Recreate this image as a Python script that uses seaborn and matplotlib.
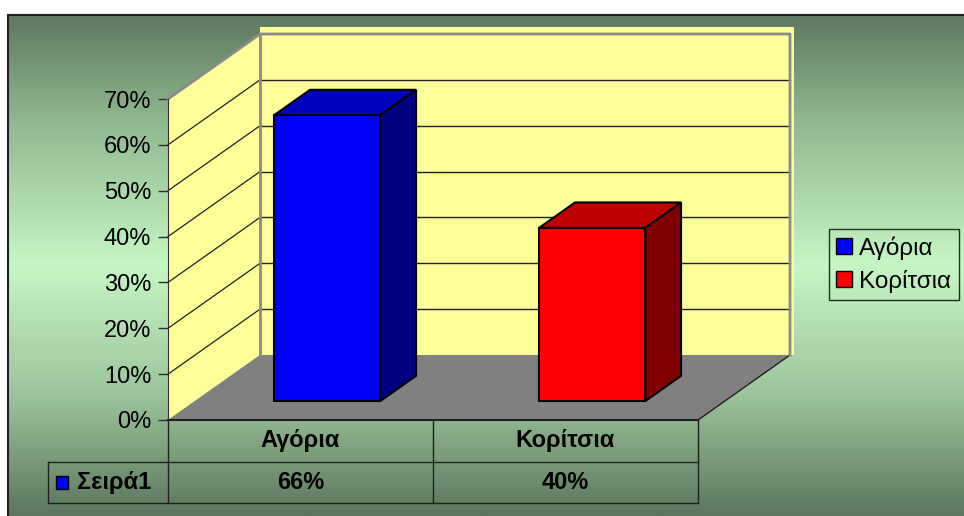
import numpy as np
import matplotlib
matplotlib.use('Agg')
import matplotlib.pyplot as plt
from matplotlib.colors import LinearSegmentedColormap
from matplotlib.patches import Polygon, Rectangle, Patch
import seaborn as sns

# data
categories = ['Αγόρια', 'Κορίτσια']
values = [0.66, 0.40]
series_name = 'Σειρά1'
yticks = [0.0, 0.1, 0.2, 0.3, 0.4, 0.5, 0.6, 0.7]

front_colors = ['#0000ff', '#ff0000']
top_colors = ['#0000c0', '#c00000']
side_colors = ['#000080', '#800000']

plt.rcParams['font.family'] = ['Liberation Sans', 'DejaVu Sans']

W, H = 964, 516
fig = plt.figure(figsize=(W / 100, H / 100), dpi=100)

# background with gradient and frame (pixel coords)
bg = fig.add_axes([0, 0, 1, 1], zorder=0)
bg.set_xlim(0, W)
bg.set_ylim(H, 0)
bg.axis('off')
grad = LinearSegmentedColormap.from_list('g', [
    (0.0, '#5f795f'), (0.22, '#92ba92'), (0.5, '#c6f6c6'),
    (0.76, '#9cc49c'), (1.0, '#5c765c')])
bg.imshow(np.linspace(0, 1, 256)[:, None], cmap=grad, aspect='auto',
          extent=(8, W, H, 15))
bg.plot([8, W], [15, 15], color='#202020', lw=1.5)
bg.plot([8, 8], [15, H], color='#202020', lw=1.5)

# main axes = front plane of the 3d box
ax = fig.add_axes([168 / W, (H - 420) / H, 530 / W, 321 / H], zorder=1)
ax.patch.set_alpha(0)
ax.set_xlim(-0.5, 1.5)
ax.set_ylim(0, 0.7)

DX, DY = 92 / 265, 65 / 458.6      # full depth of the box in data units
F0, FD = 0.29, 0.39                # bar front position / bar depth (fraction of depth)
BAR_SCALE = 0.945                  # perspective shrink at bar depth
wall = '#ffff99'

# left wall
ax.add_patch(Polygon([(-0.5, 0), (-0.5, 0.7), (-0.5 + DX, 0.7 + DY), (-0.5 + DX, DY)],
                     closed=True, fc=wall, ec='none', clip_on=False, zorder=1))
# back wall
ax.add_patch(Rectangle((-0.5 + DX, DY), 2 + 0.015, 0.7 + 0.015, fc=wall, ec='none',
                       clip_on=False, zorder=1))
# floor
ax.add_patch(Polygon([(-0.5, 0), (1.5, 0), (1.5 + DX, DY), (-0.5 + DX, DY)],
                     closed=True, fc='#808080', ec='none', clip_on=False, zorder=2))
ax.plot([1.5, 1.5 + DX], [0, DY], color='#202020', lw=1, clip_on=False, zorder=2)

# gridlines
for v in yticks[1:-1]:
    ax.plot([-0.5 + DX, 1.5 + DX], [v + DY, v + DY], color='#202020', lw=1,
            clip_on=False, zorder=2)
    ax.plot([-0.5, -0.5 + DX], [v, v + DY], color='#202020', lw=0.9,
            clip_on=False, zorder=2)
gray = '#8a8a8a'
ax.plot([-0.5, -0.5 + DX, 1.5 + DX, 1.5 + DX],
        [0.7, 0.7 + DY, 0.7 + DY, DY], color=gray, lw=2, clip_on=False, zorder=2)
ax.plot([-0.5 + DX, -0.5 + DX], [DY, 0.7 + DY], color=gray, lw=2, clip_on=False, zorder=2)

# bars
sns.barplot(x=categories, y=values, hue=categories, palette=front_colors,
            width=0.4, saturation=1, legend=False, ax=ax)
for i, p in enumerate(ax.patches[-len(categories):]):
    x0, w = p.get_x(), p.get_width()
    h = p.get_height() * BAR_SCALE
    ox, oy = F0 * DX, F0 * DY
    bx, by = FD * DX, FD * DY
    p.set_xy((x0 + ox, oy))
    p.set_height(h)
    p.set_edgecolor('black')
    p.set_linewidth(1.5)
    p.set_zorder(4)
    p.set_clip_on(False)
    x1 = x0 + w
    top = [(x0 + ox, h + oy), (x1 + ox, h + oy), (x1 + ox + bx, h + oy + by),
           (x0 + ox + bx, h + oy + by)]
    side = [(x1 + ox, oy), (x1 + ox, h + oy), (x1 + ox + bx, h + oy + by),
            (x1 + ox + bx, oy + by)]
    ax.add_patch(Polygon(top, closed=True, fc=top_colors[i], ec='black', lw=1.5,
                         clip_on=False, zorder=3))
    ax.add_patch(Polygon(side, closed=True, fc=side_colors[i], ec='black', lw=1.5,
                         clip_on=False, zorder=3))

# axis
for s in ['top', 'right', 'bottom']:
    ax.spines[s].set_visible(False)
ax.spines['left'].set_color('#303030')
ax.spines['left'].set_zorder(3)
ax.set_xticks([])
ax.set_yticks(yticks)
ax.set_yticklabels([f'{v:.0%}' for v in yticks])
ax.tick_params(axis='y', length=7, width=1, color='#303030', labelsize=17, pad=5)
ax.set_xlabel('')
ax.set_ylabel('')

# data table below the floor
XL = -0.5 - 120 / 265
R1, R2 = -42 / 458.6, -83 / 458.6
lc = '#202020'
kw = dict(color=lc, lw=1, clip_on=False, zorder=3)
ax.plot([-0.5, 1.5], [0, 0], color=lc, lw=1.5, clip_on=False, zorder=3)
for xv in [-0.5, 0.5, 1.5]:
    ax.plot([xv, xv], [0, R2], **kw)
ax.plot([XL, 1.5], [R1, R1], **kw)
ax.plot([XL, 1.5], [R2, R2], **kw)
ax.plot([XL, XL], [R1, R2], **kw)
tfs = 17
for i, (c, v) in enumerate(zip(categories, values)):
    ax.text(i, R1 / 2, c, ha='center', va='center', fontsize=tfs,
            fontweight='bold', clip_on=False)
    ax.text(i, (R1 + R2) / 2, f'{v:.0%}', ha='center', va='center', fontsize=tfs,
            fontweight='bold', clip_on=False)
ax.add_patch(Rectangle((XL + 8 / 265, (R1 + R2) / 2 - 6.5 / 458.6), 12 / 265, 13 / 458.6,
                       fc=front_colors[0], ec='black', lw=1, clip_on=False, zorder=3))
ax.text(XL + 29 / 265, (R1 + R2) / 2, series_name, ha='left', va='center',
        fontsize=tfs, fontweight='bold', clip_on=False)

# legend
handles = [Patch(facecolor=c, edgecolor='black', lw=1) for c in front_colors]
leg = fig.legend(handles, categories, loc='upper left',
                 bbox_to_anchor=(829 / W, 1 - 229 / H), frameon=True, fancybox=False,
                 edgecolor='black', facecolor='none', fontsize=17.5,
                 handlelength=0.65, handleheight=0.65, handletextpad=0.3,
                 borderpad=0.3, labelspacing=0.4, borderaxespad=0)
leg.get_frame().set_linewidth(1)

fig.savefig('out.png', dpi=100)
